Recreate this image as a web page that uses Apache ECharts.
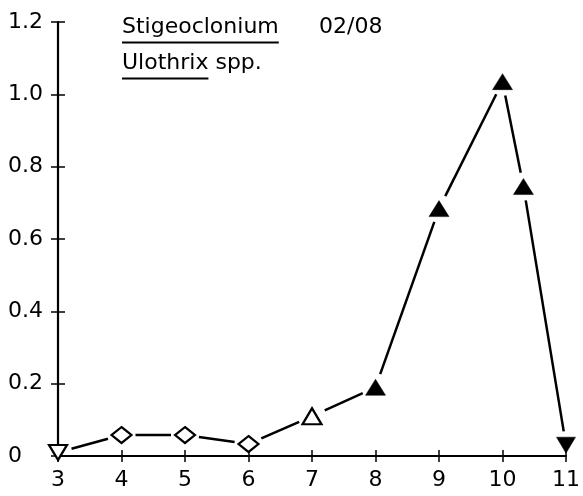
<!DOCTYPE html>
<html>
<head>
<meta charset="utf-8">
<script src="https://cdn.jsdelivr.net/npm/echarts@6/dist/echarts.min.js"></script>
<style>
html,body{margin:0;padding:0;background:#fff;}
#chart{width:583px;height:496px;}
</style>
</head>
<body>
<div id="chart"></div>
<script>
// ---- data ----
const xValues = [3, 4, 5, 6, 7, 8, 9, 10, 10.33, 11];
const yValues = [0.01, 0.058, 0.058, 0.033, 0.11, 0.19, 0.684, 1.035, 0.745, 0.03];
const markerTypes = ['downOpen', 'diamondOpen', 'diamondOpen', 'diamondOpen', 'triOpen',
                     'triFilled', 'triFilled', 'triFilled', 'triFilled', 'downFilled'];
const xTicks = [3, 4, 5, 6, 7, 8, 9, 10, 11];
const yTicks = [0, 0.2, 0.4, 0.6, 0.8, 1.0, 1.2];
const titleLine1 = ['Stigeoclonium', '02/08'];
const titleLine2 = ['Ulothrix', 'spp.'];

const FONT = 'DejaVu Sans';
const FS = 22;

function measure(t) {
  const c = document.createElement('canvas').getContext('2d');
  c.font = FS + 'px "' + FONT + '"';
  return c.measureText(t).width;
}

const markerStyles = {
  downOpen:   {symbol: 'triangle', rotate: 180, size: [18, 15], fill: '#fff'},
  downFilled: {symbol: 'triangle', rotate: 180, size: [19, 16], fill: '#000'},
  diamondOpen:{symbol: 'diamond',  rotate: 0,   size: [20, 16], fill: '#fff'},
  triOpen:    {symbol: 'triangle', rotate: 0,   size: [19, 16], fill: '#fff'},
  triFilled:  {symbol: 'triangle', rotate: 0,   size: [20, 16], fill: '#000'}
};

const markerData = xValues.map((x, i) => {
  const m = markerStyles[markerTypes[i]];
  return {
    value: [x, yValues[i]],
    symbol: m.symbol,
    symbolRotate: m.rotate,
    symbolSize: m.size,
    itemStyle: {color: m.fill, opacity: 1, borderColor: '#000', borderWidth: m.fill === '#fff' ? 2.2 : 0.5}
  };
});

const segData = [];
for (let i = 0; i < xValues.length - 1; i++) {
  segData.push([xValues[i], yValues[i], xValues[i + 1], yValues[i + 1]]);
}

const chart = echarts.init(document.getElementById('chart'), null, {renderer: 'canvas'});

const axisCommon = {
  type: 'value',
  splitLine: {show: false},
  axisLine: {show: true, onZero: false, lineStyle: {color: '#000', width: 2.2}},
  axisTick: {show: true, lineStyle: {color: '#000', width: 1.5}},
  axisLabel: {color: '#000', fontFamily: FONT, fontSize: FS}
};

const w1a = measure(titleLine1[0]);
const w2a = measure(titleLine2[0]);
const tx = 122;

const option = {
  backgroundColor: '#fff',
  animation: false,
  grid: {left: 58, right: 13, top: 22, bottom: 40},
  xAxis: [
    Object.assign({}, axisCommon, {
      min: xTicks[0], max: xTicks[xTicks.length - 1], interval: 1, position: 'bottom',
      axisTick: {show: true, length: 6, lineStyle: {color: '#000', width: 1.5}},
      axisLabel: Object.assign({}, axisCommon.axisLabel, {margin: 13})
    }),
    Object.assign({}, axisCommon, {
      min: xTicks[0], max: xTicks[xTicks.length - 1], interval: 1, position: 'bottom',
      axisLine: {show: false},
      axisTick: {show: true, inside: true, length: 6, lineStyle: {color: '#000', width: 1.5}},
      axisLabel: {show: false}
    })
  ],
  yAxis: [
    Object.assign({}, axisCommon, {
      min: yTicks[0], max: yTicks[yTicks.length - 1], interval: 0.2, position: 'left',
      axisTick: {show: true, length: 7, lineStyle: {color: '#000', width: 1.5}},
      axisLabel: Object.assign({}, axisCommon.axisLabel, {
        margin: 50,
        align: 'left',
        formatter: v => (v === 0 ? '0' : v.toFixed(1))
      })
    }),
    Object.assign({}, axisCommon, {
      min: yTicks[0], max: yTicks[yTicks.length - 1], interval: 0.2, position: 'left',
      axisLine: {show: false},
      axisTick: {show: true, inside: true, length: 7, lineStyle: {color: '#000', width: 1.5}},
      axisLabel: {show: false}
    })
  ],
  series: [
    {
      type: 'custom',
      xAxisIndex: 0, yAxisIndex: 0,
      clip: false,
      z: 3,
      data: segData,
      encode: {x: [0, 2], y: [1, 3]},
      renderItem: function (params, api) {
        const p0 = api.coord([api.value(0), api.value(1)]);
        const p1 = api.coord([api.value(2), api.value(3)]);
        const dx = p1[0] - p0[0], dy = p1[1] - p0[1];
        const len = Math.sqrt(dx * dx + dy * dy);
        const ux = dx / len, uy = dy / len;
        const g = 14;
        return {
          type: 'line',
          shape: {x1: p0[0] + ux * g, y1: p0[1] + uy * g, x2: p1[0] - ux * g, y2: p1[1] - uy * g},
          style: {stroke: '#000', lineWidth: 2.5}
        };
      }
    },
    {
      type: 'scatter',
      xAxisIndex: 0, yAxisIndex: 0,
      clip: false,
      z: 4,
      data: markerData
    }
  ],
  graphic: [
    {type: 'text', left: tx, top: 16, z: 10,
     style: {text: titleLine1[0], font: FS + 'px "' + FONT + '"', fill: '#000'}},
    {type: 'text', left: 319, top: 16, z: 10,
     style: {text: titleLine1[1], font: FS + 'px "' + FONT + '"', fill: '#000'}},
    {type: 'line', z: 10, shape: {x1: tx, y1: 42.5, x2: tx + w1a, y2: 42.5},
     style: {stroke: '#000', lineWidth: 2.2}},
    {type: 'text', left: tx, top: 52, z: 10,
     style: {text: titleLine2[0] + ' ' + titleLine2[1], font: FS + 'px "' + FONT + '"', fill: '#000'}},
    {type: 'line', z: 10, shape: {x1: tx, y1: 78.5, x2: tx + w2a, y2: 78.5},
     style: {stroke: '#000', lineWidth: 2.2}}
  ]
};

chart.setOption(option);
</script>
</body>
</html>
